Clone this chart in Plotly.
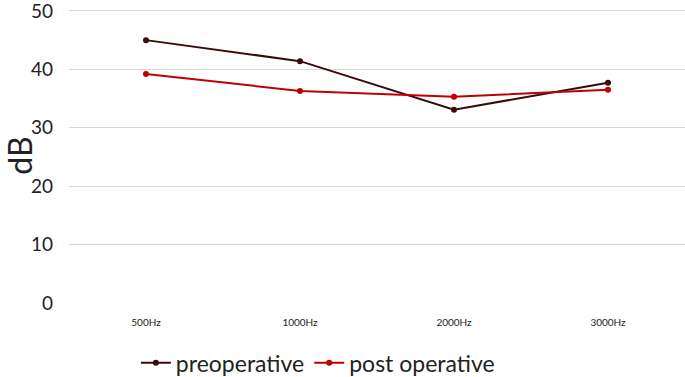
import plotly.graph_objects as go

categories = ["500Hz", "1000Hz", "2000Hz", "3000Hz"]
preoperative = [45.0, 41.4, 33.1, 37.7]
post_operative = [39.2, 36.3, 35.3, 36.5]
y_ticks = [0, 10, 20, 30, 40, 50]

fig = go.Figure()
fig.add_trace(go.Scatter(x=categories, y=preoperative, mode="lines+markers",
                         name="preoperative", line=dict(color="#3a0b0b", width=2),
                         marker=dict(size=6, color="#3a0b0b")))
fig.add_trace(go.Scatter(x=categories, y=post_operative, mode="lines+markers",
                         name="post operative", line=dict(color="#c00000", width=2),
                         marker=dict(size=6, color="#c00000")))

fig.update_layout(
    width=685, height=377,
    margin=dict(l=69, r=0, t=8, b=74, autoexpand=False),
    paper_bgcolor="white", plot_bgcolor="white",
    font=dict(family="Lato, Open Sans, sans-serif", color="#222"),
    showlegend=True,
    legend=dict(orientation="h", x=0.404, xref="paper", xanchor="center",
                y=-0.13, yanchor="top",
                font=dict(size=23, color="#222"), itemwidth=30, tracegroupgap=0),
    xaxis=dict(type="category", range=[-0.5, 3.5], showgrid=False, zeroline=False,
               showline=False, ticks="", tickfont=dict(size=10, color="#222"),
               ticklabelstandoff=12, automargin=False),
    yaxis=dict(range=[0, 50.5], tickvals=y_ticks, showgrid=True, gridcolor="#d9d9d9",
               gridwidth=1, zeroline=False, showline=False, ticks="",
               tickfont=dict(size=19, color="#222"), ticklabelstandoff=15,
               ticklabeloverflow="allow", automargin=False,
               title=dict(text="dB", font=dict(size=32, color="#222"), standoff=6)),
)
fig.write_html("out.html", post_script="document.body.style.margin='0';",
               config={"displayModeBar": False})
